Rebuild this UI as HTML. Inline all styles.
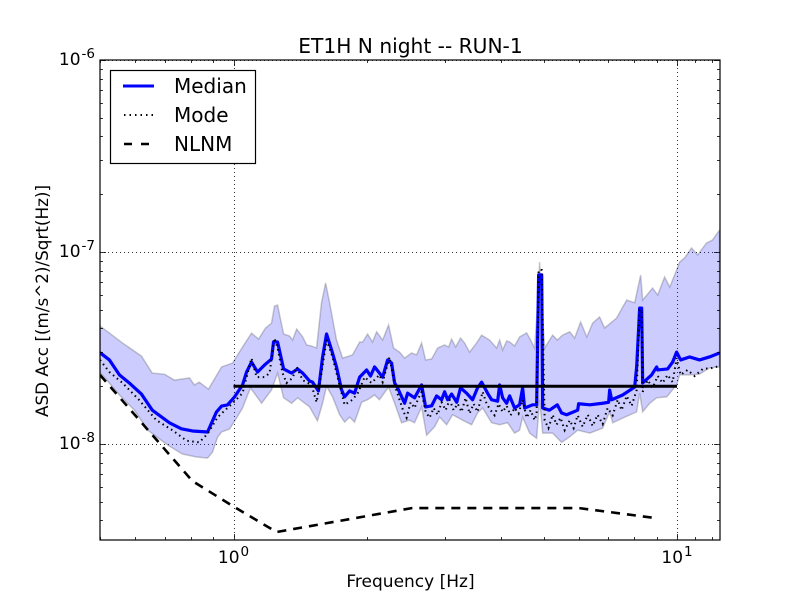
<!DOCTYPE html>
<html>
<head>
<meta charset="utf-8">
<title>ET1H N night -- RUN-1</title>
<style>
html,body{margin:0;padding:0;background:#fff;}
svg{display:block;font-family:"DejaVu Sans","Liberation Sans",sans-serif;}
</style>
</head>
<body>
<svg id="chart" width="800" height="600" viewBox="0 0 800 600" xmlns="http://www.w3.org/2000/svg">
<defs><clipPath id="plot-clip"><rect x="100" y="60" width="620" height="480"/></clipPath></defs>
<rect x="0" y="0" width="800" height="600" fill="#fff"/>
<g id="grid"></g>
<g id="marks" clip-path="url(#plot-clip)"></g>
<rect x="100" y="60" width="620" height="480" fill="none" stroke="#000" stroke-width="1.2"/>
<g id="ticks"></g>
<g id="labels"></g>
<text x="410.5" y="53" font-size="20.2" text-anchor="middle">ET1H N night -- RUN-1</text>
<text x="410.5" y="587" font-size="17" text-anchor="middle">Frequency [Hz]</text>
<text transform="translate(48,301) rotate(-90)" font-size="16.8" text-anchor="middle">ASD Acc [(m/s^2)/Sqrt(Hz)]</text>
<g>
<rect x="110.5" y="70.5" width="145" height="93" fill="#fff" stroke="#000" stroke-width="1.2"/>
<line x1="123" y1="86" x2="154" y2="86" stroke="#0000ff" stroke-width="3"/>
<text x="174" y="93" font-size="20">Median</text>
<line x1="124" y1="115" x2="154" y2="115" stroke="#000" stroke-width="2" stroke-dasharray="1.5 4"/>
<text x="174" y="122" font-size="20">Mode</text>
<line x1="124" y1="144" x2="150" y2="144" stroke="#000" stroke-width="2.6" stroke-dasharray="8 9"/>
<text x="174" y="151" font-size="20">NLNM</text>
</g>
</svg>
<script>
// All ASD values are in units of 1e-8 (m/s^2)/sqrt(Hz); frequencies in Hz.
const UNIT = 1e-8;

const medianFreq = [0.50,0.525,0.553,0.582,0.620,0.656,0.717,0.763,0.808,0.874,0.915,0.940,0.969,1.005,1.048,1.070,1.098,1.133,1.175,1.218,1.231,1.257,1.297,1.352,1.395,1.432,1.484,1.507,1.554,1.588,1.621,1.664,1.707,1.753,1.780,1.827,1.875,1.925,1.996,2.037,2.080,2.169,2.226,2.272,2.308,2.344,2.431,2.469,2.560,2.655,2.711,2.797,2.870,2.946,2.992,3.040,3.103,3.187,3.250,3.354,3.460,3.550,3.626,3.740,3.819,3.940,3.982,4.044,4.129,4.193,4.303,4.416,4.486,4.533,4.725,4.825,4.875,4.953,4.978,5.156,5.371,5.493,5.638,5.970,6.00,6.360,6.797,7.012,7.049,7.123,7.540,8.026,8.110,8.236,8.323,8.366,8.765,8.997,9.045,9.526,9.775,9.979,10.19,10.67,11.24,11.83,12.47];
const medianValues = [2.99,2.74,2.29,2.08,1.82,1.50,1.29,1.20,1.169,1.155,1.467,1.577,1.597,1.757,2.03,2.37,2.67,2.37,2.58,2.77,3.40,3.40,2.46,2.34,2.46,2.34,2.13,2.10,1.89,2.84,3.74,3.09,2.52,1.91,1.76,1.89,1.84,2.23,2.43,2.26,2.52,2.23,2.74,2.64,2.08,1.96,1.63,1.84,1.74,2.03,1.56,1.58,1.78,1.70,1.87,1.70,1.82,1.65,1.96,1.84,1.70,1.96,2.10,1.84,1.70,1.67,2.03,1.74,1.63,1.78,1.54,1.60,1.96,1.54,1.60,1.60,7.6,7.6,1.54,1.50,1.60,1.45,1.42,1.50,1.62,1.60,1.63,1.65,1.91,1.70,1.80,1.98,2.52,5.10,5.10,2.08,2.29,2.52,2.43,2.46,2.67,3.01,2.74,2.84,2.74,2.84,2.98];

const modeFreq = [0.50,0.525,0.562,0.612,0.670,0.728,0.784,0.837,0.874,0.921,0.995,1.048,1.076,1.098,1.127,1.175,1.206,1.237,1.257,1.290,1.317,1.359,1.388,1.432,1.499,1.539,1.579,1.621,1.672,1.716,1.780,1.855,1.906,1.975,2.047,2.133,2.169,2.248,2.308,
  2.368,2.418,2.456,2.508,2.56,2.614,2.655,2.711,2.768,2.826,2.885,2.946,3.008,3.071,3.135,3.203,3.267,3.336,3.406,3.478,3.55,3.645,3.721,3.799,3.879,3.96,4.044,4.129,4.214,4.303,4.393,4.486,4.58,4.676,4.775,4.825,
  4.875,4.953,
  5.03,5.13,5.243,5.35,5.463,5.58,5.73,5.847,5.97,6.126,6.293,6.452,6.62,6.797,6.975,7.16,7.35,7.5,7.70,7.90,8.11,
  8.236,8.323,
  8.366,8.59,8.81,9.045,9.28,9.526,9.775,9.979,10.19,10.56,10.96,11.43,12.0,12.47];
const modeValues = [2.74,2.37,2.08,1.70,1.33,1.18,1.04,1.02,1.13,1.38,1.63,1.84,2.34,2.80,2.23,2.23,2.34,3.56,3.16,2.34,2.08,2.21,2.52,2.15,2.03,1.65,2.34,3.48,2.84,2.23,1.60,1.70,1.84,2.23,2.08,2.29,2.10,2.84,2.03,
  1.70,1.47,1.37,1.65,1.54,1.74,1.87,1.47,1.37,1.54,1.42,1.65,1.50,1.70,1.50,1.62,1.47,1.74,1.44,1.62,1.47,1.87,1.62,1.50,1.41,1.62,1.47,1.58,1.41,1.54,1.44,1.70,1.37,1.50,1.33,1.44,
  8.06,8.06,
  1.33,1.21,1.42,1.26,1.37,1.18,1.33,1.21,1.41,1.23,1.42,1.24,1.42,1.27,1.54,1.41,1.70,1.50,1.78,1.58,1.91,
  4.99,4.99,
  1.87,2.15,1.96,2.26,2.08,2.29,2.10,2.80,2.29,2.43,2.26,2.46,2.49,2.55];

const upperFreq = [0.50,0.562,0.620,0.656,0.699,0.736,0.796,0.816,0.837,0.878,0.940,0.995,1.048,1.098,1.139,1.181,1.218,1.237,1.257,1.297,1.338,1.359,1.388,1.432,1.462,1.499,1.539,1.579,1.613,1.647,1.707,1.762,1.855,1.925,1.955,2.006,2.058,2.102,2.169,2.237,2.296,2.368,2.431,2.521,2.587,2.655,2.711,2.797,2.885,2.992,3.055,3.103,3.168,3.250,3.319,3.406,3.533,3.626,3.779,3.920,3.982,4.044,4.129,4.193,4.303,4.416,4.58,4.652,4.775,4.85,4.90,4.953,5.03,5.243,5.371,5.522,5.73,5.877,6.062,6.26,6.452,6.69,6.867,7.308,7.70,8.026,8.28,8.366,8.81,9.045,9.376,9.63,9.979,10.14,10.40,10.78,11.13,11.65,12.02,12.47];
const upperValues = [4.12,3.36,2.87,2.34,2.31,2.15,2.21,2.03,2.10,1.93,2.52,2.64,3.20,3.78,3.52,4.02,4.26,5.23,5.29,3.74,3.65,3.48,3.97,3.61,3.28,3.24,3.16,5.44,6.90,5.44,3.48,2.80,2.91,3.40,3.40,3.74,3.40,3.84,3.48,4.17,3.16,3.01,2.80,2.98,2.91,3.36,2.74,2.77,3.16,3.28,3.20,3.52,3.20,3.56,3.36,3.01,3.36,3.69,3.48,3.16,3.48,3.09,3.44,3.40,3.24,3.61,3.79,3.56,3.16,5.44,8.87,5.44,3.16,3.69,3.48,3.69,3.84,3.56,4.32,3.61,4.26,4.59,4.02,4.53,5.62,5.44,7.59,5.62,6.49,5.97,7.41,6.57,8.06,8.87,9.31,10.49,9.65,11.13,11.55,13.0];

const lowerFreq = [0.50,0.553,0.598,0.641,0.710,0.767,0.825,0.874,0.897,0.921,0.940,0.980,1.016,1.048,1.092,1.157,1.218,1.257,1.297,1.352,1.395,1.484,1.546,1.588,1.621,1.672,1.735,1.780,1.827,1.875,1.945,2.006,2.080,2.133,2.237,2.308,2.393,2.495,2.560,2.655,2.725,2.841,2.916,3.024,3.119,3.285,3.442,3.550,3.645,3.819,3.982,4.150,4.303,4.416,4.486,4.652,4.825,4.90,4.978,5.243,5.493,5.73,5.97,6.36,6.797,7.049,7.16,7.62,8.11,8.236,8.366,8.68,8.997,9.48,9.979,10.14,10.67,11.24,11.83,12.47];
const lowerValues = [2.37,1.80,1.50,1.18,0.988,0.887,0.856,0.845,0.909,1.087,1.155,1.197,1.366,1.54,1.96,1.63,1.91,2.34,1.74,1.63,1.74,1.56,1.32,1.63,2.00,1.76,1.42,1.30,1.38,1.30,1.65,1.70,1.80,1.70,1.98,1.63,1.29,1.33,1.29,1.56,1.11,1.23,1.38,1.26,1.42,1.33,1.26,1.45,1.54,1.29,1.26,1.29,1.14,1.18,1.38,1.14,1.07,1.70,1.14,1.14,1.02,1.09,1.18,1.14,1.21,1.47,1.29,1.38,1.47,1.84,1.47,1.63,1.74,1.76,2.03,2.29,2.29,2.31,2.49,2.52];

const nlnmFreq = [0.50,0.808,0.995,1.25,2.53,6.0,8.9];
const nlnmValues = [2.29,0.641,0.476,0.348,0.464,0.464,0.412];

const referenceFreq = [1,10];
const referenceValues = [2,2];

const xMajorTicks = [1,10];
const xMinorTicks = [0.5,0.6,0.7,0.8,0.9,2,3,4,5,6,7,8,9,11,12];
const yMajorExponents = [-6,-7,-8];
const yMinorTicks = [2e-7,3e-7,4e-7,5e-7,6e-7,7e-7,8e-7,9e-7,2e-8,3e-8,4e-8,5e-8,6e-8,7e-8,8e-8,9e-8,4e-9,5e-9,6e-9,7e-9,8e-9,9e-9];
const xTickLabels = [["10","0"],["10","1"]];
const yTickLabels = [["10","-6"],["10","-7"],["10","-8"]];

const NS = 'http://www.w3.org/2000/svg';
const PLOT = {left:100, right:720, top:60, bottom:540};
const X_DOMAIN = [0.5, 12.5];
const Y_DOMAIN = [Math.pow(10,-8.5), 1e-6];

function xScale(f){
  const a = Math.log10(X_DOMAIN[0]), b = Math.log10(X_DOMAIN[1]);
  return PLOT.left + (Math.log10(f) - a) / (b - a) * (PLOT.right - PLOT.left);
}
function yScale(v){
  const a = Math.log10(Y_DOMAIN[0]), b = Math.log10(Y_DOMAIN[1]);
  return PLOT.bottom - (Math.log10(v) - a) / (b - a) * (PLOT.bottom - PLOT.top);
}
function linePoints(freq, values){
  const n = Math.min(freq.length, values.length);
  const pts = [];
  for (let i = 0; i < n; i++) {
    pts.push(xScale(freq[i]).toFixed(2) + ',' + yScale(values[i] * UNIT).toFixed(2));
  }
  return pts;
}
function make(tag, parent, props){
  const el = document.createElementNS(NS, tag);
  for (const k in props) el.setAttribute(k, props[k]);
  parent.appendChild(el);
  return el;
}

const gridG = document.getElementById('grid');
const marksG = document.getElementById('marks');
const ticksG = document.getElementById('ticks');
const labelsG = document.getElementById('labels');

// grid
xMajorTicks.forEach(function(t){
  const x = Math.round(xScale(t)) + 0.5;
  const el = make('line', gridG, {x1:x, x2:x, y1:PLOT.top, y2:PLOT.bottom, stroke:'#000', 'stroke-opacity':0.8, 'stroke-width':1, 'stroke-dasharray':'1 3'});
  
  
});
yMajorExponents.forEach(function(e){
  const y = Math.round(yScale(Math.pow(10, e))) + 0.5;
  const el = make('line', gridG, {x1:PLOT.left, x2:PLOT.right, y1:y, y2:y, stroke:'#000', 'stroke-opacity':0.8, 'stroke-width':1, 'stroke-dasharray':'1 3'});
  
  
});

// band
const bandPts = linePoints(upperFreq, upperValues).concat(linePoints(lowerFreq, lowerValues).reverse());
const band = make('polygon', marksG, {points:bandPts.join(' '), fill:'#0000ff', 'fill-opacity':0.2, stroke:'#000', 'stroke-opacity':0.2, 'stroke-width':1.5});



// series
const medianLine = make('polyline', marksG, {points:linePoints(medianFreq, medianValues).join(' '), fill:'none', stroke:'#0000ff', 'stroke-width':3.2, 'stroke-linejoin':'round'});



const modeLine = make('polyline', marksG, {points:linePoints(modeFreq, modeValues).join(' '), fill:'none', stroke:'#000', 'stroke-width':2, 'stroke-dasharray':'1.5 3.5'});



const nlnmLine = make('polyline', marksG, {points:linePoints(nlnmFreq, nlnmValues).join(' '), fill:'none', stroke:'#000', 'stroke-width':2.6, 'stroke-dasharray':'9 7'});



const refLine = make('polyline', marksG, {points:linePoints(referenceFreq, referenceValues).join(' '), fill:'none', stroke:'#000', 'stroke-width':3});



// ticks
function xTick(t, len){
  const x = Math.round(xScale(t)) + 0.5;
  const b = make('line', ticksG, {x1:x, x2:x, y1:PLOT.bottom, y2:PLOT.bottom - len, stroke:'#000', 'stroke-width':0.8});
  
  
  const a = make('line', ticksG, {x1:x, x2:x, y1:PLOT.top, y2:PLOT.top + len, stroke:'#000', 'stroke-width':0.8});
  
  
}
function yTick(v, len){
  const y = Math.round(yScale(v)) + 0.5;
  const l = make('line', ticksG, {x1:PLOT.left, x2:PLOT.left + len, y1:y, y2:y, stroke:'#000', 'stroke-width':0.8});
  
  
  const r = make('line', ticksG, {x1:PLOT.right, x2:PLOT.right - len, y1:y, y2:y, stroke:'#000', 'stroke-width':0.8});
  
  
}
xMajorTicks.forEach(function(t){ xTick(t, 6); });
xMinorTicks.forEach(function(t){ xTick(t, 3); });
yMajorExponents.forEach(function(e){ yTick(Math.pow(10, e), 6); });
yMinorTicks.forEach(function(v){ yTick(v, 3); });

// tick labels
function powerLabel(parent, x, y, anchor, base, exp){
  const t = make('text', parent, {x:x, y:y, 'font-size':17, 'text-anchor':anchor});
  const b = make('tspan', t, {});
  b.textContent = base;
  const s = make('tspan', t, {dy:-7, 'font-size':13.5, dx:1});
  s.textContent = exp;
  return t;
}
xMajorTicks.forEach(function(t, i){
  const lab = powerLabel(labelsG, xScale(t), 563, 'middle', xTickLabels[i][0], xTickLabels[i][1]);
  
  
});
yMajorExponents.forEach(function(e, i){
  const lab = powerLabel(labelsG, 95, yScale(Math.pow(10, e)) + 5, 'end', yTickLabels[i][0], yTickLabels[i][1]);
  
  
});
</script>
</body>
</html>
